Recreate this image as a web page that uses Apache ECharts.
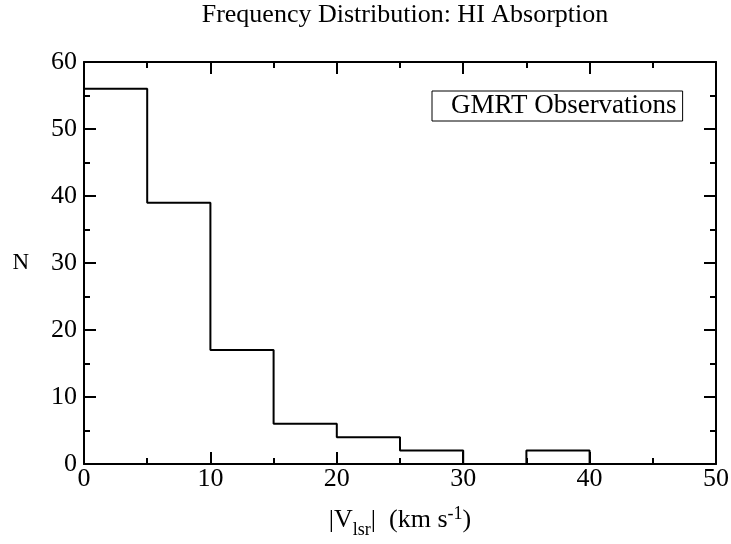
<!DOCTYPE html>
<html><head><meta charset="utf-8">
<script src="https://cdn.jsdelivr.net/npm/echarts@6/dist/echarts.min.js"></script>
<style>html,body{margin:0;padding:0;background:#fff}#c{width:731px;height:544px}</style>
</head><body><div id="c"></div>
<script>
var binEdges = [0, 5, 10, 15, 20, 25, 30, 35, 40, 45, 50];
var counts = [56, 39, 17, 6, 4, 2, 0, 2, 0, 0];
var seriesName = 'GMRT Observations';
var titleText = 'Frequency Distribution: HI Absorption';

var stepData = [];
for (var i = 0; i < counts.length; i++) stepData.push([binEdges[i], counts[i]]);
stepData.push([binEdges[binEdges.length - 1], counts[counts.length - 1]]);

var F = 'Liberation Serif, Times New Roman, serif';
var axisLine = {show: true, onZero: false, lineStyle: {color: '#000', width: 2}};
function xa(pos, showLabels) {
  return {
    type: 'value', position: pos, min: 0, max: 50, interval: 10,
    axisLine: axisLine,
    axisTick: {show: true, inside: true, length: 12, lineStyle: {color: '#000', width: 2}},
    minorTick: {show: true, splitNumber: 2, length: 6, lineStyle: {color: '#000', width: 2}},
    splitLine: {show: false},
    axisLabel: {show: showLabels, color: '#000', fontFamily: F, fontSize: 26, margin: 2},
    name: showLabels ? '{a||V}{s|lsr}{a||  (km s}{p|-1}{a|)}' : '',
    nameLocation: 'middle', nameGap: 37,
    nameTextStyle: {rich: {
      a: {fontFamily: F, fontSize: 26, color: '#000'},
      s: {fontFamily: F, fontSize: 18, color: '#000', verticalAlign: 'top', padding: [20, 0, 0, 0]},
      p: {fontFamily: F, fontSize: 18, color: '#000', verticalAlign: 'bottom', padding: [0, 0, 16, 0]}
    }}
  };
}
function ya(pos, showLabels) {
  return {
    type: 'value', position: pos, min: 0, max: 60, interval: 10,
    axisLine: axisLine,
    axisTick: {show: true, inside: true, length: 12, lineStyle: {color: '#000', width: 2}},
    minorTick: {show: true, splitNumber: 2, length: 6, lineStyle: {color: '#000', width: 2}},
    splitLine: {show: false},
    axisLabel: {show: showLabels, color: '#000', fontFamily: F, fontSize: 26, margin: 7},
    name: showLabels ? 'N' : '', nameLocation: 'middle', nameRotate: 0, nameGap: 55,
    nameTextStyle: {fontFamily: F, fontSize: 23, color: '#000'}
  };
}
var chart = echarts.init(document.getElementById('c'));
chart.setOption({
  animation: false,
  backgroundColor: '#fff',
  title: {text: titleText, left: 400, textAlign: 'center', top: -3,
    textStyle: {fontFamily: F, fontSize: 26, fontWeight: 'normal', color: '#000'}},
  grid: {left: 84, top: 62, right: 15, bottom: 80, containLabel: false, outerBoundsMode: 'none'},
  legend: {
    data: [{name: seriesName, icon: 'none'}], left: 432, top: 91,
    itemWidth: 0, itemHeight: 0, itemGap: 0,
    borderColor: '#000', borderWidth: 1, borderRadius: 0,
    padding: [1, 6, 2, 14],
    textStyle: {fontFamily: F, fontSize: 27, color: '#000'}
  },
  xAxis: [xa('bottom', true), xa('top', false)],
  yAxis: [ya('left', true), ya('right', false)],
  series: [{
    name: seriesName, type: 'line', step: 'end', data: stepData,
    xAxisIndex: 0, yAxisIndex: 0, showSymbol: false, symbol: 'none',
    lineStyle: {color: '#000', width: 2}, itemStyle: {color: '#000'}
  }]
});
</script></body></html>
